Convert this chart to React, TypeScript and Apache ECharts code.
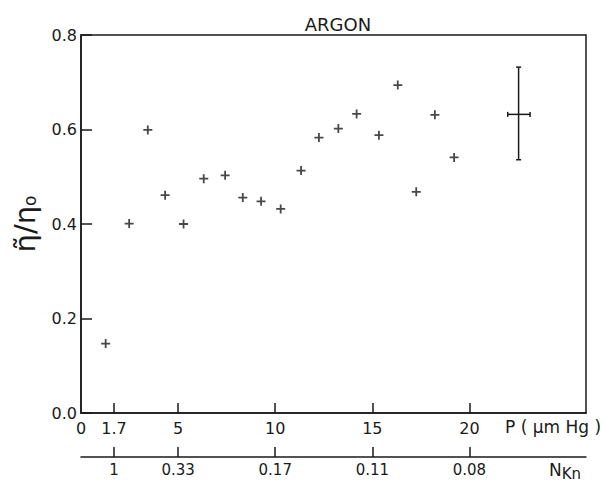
import React, { useEffect, useRef } from "react";
import * as echarts from "echarts";

const pressure = [1.27, 2.48, 3.44, 4.33, 5.28, 6.32, 7.42, 8.33, 9.27, 10.28, 11.33, 12.25, 13.25, 14.19, 15.34, 16.31, 17.26, 18.22, 19.21];
const ratio = [0.147, 0.401, 0.599, 0.461, 0.4, 0.496, 0.503, 0.456, 0.448, 0.432, 0.513, 0.583, 0.602, 0.633, 0.588, 0.694, 0.468, 0.631, 0.541];

// error bar: [x, y, xLow, xHigh, yLow, yHigh]
const errorBar = [[22.53, 0.632, 21.97, 23.12, 0.536, 0.732]];

const pTickValues = [1.7, 5, 10, 15, 20];
const pLabelValues = [0, 1.7, 5, 10, 15, 20];
const knTickValues = [1.7, 5, 10, 15, 20];
const knLabels = ["1", "0.33", "0.17", "0.11", "0.08"];

const FONT = "DejaVu Sans";
const INK = "#1a1a1a";

export default function App() {
  const ref = useRef<HTMLDivElement>(null);
  useEffect(() => {
    if (!ref.current) return;
    const chart = echarts.init(ref.current, undefined, { renderer: "svg" });
    const plus = "path://M-1,-5 H1 V-1 H5 V1 H1 V5 H-1 V1 H-5 V-1 H-1 Z";
    chart.setOption({
      animation: false,
      backgroundColor: "#fff",
      title: {
        text: "ARGON",
        left: 333,
        textAlign: "center",
        top: 10,
        textStyle: { fontFamily: FONT, fontSize: 18, fontWeight: "normal", color: INK },
      },
      grid: {
        left: 81,
        right: 19,
        top: 35,
        bottom: 70,
        show: true,
        borderColor: INK,
        borderWidth: 1.5,
        backgroundColor: "transparent",
      },
      xAxis: [
        {
          type: "value",
          min: 0,
          max: 26,
          position: "bottom",
          axisLine: { show: true, onZero: false, lineStyle: { color: INK, width: 1.5 } },
          axisTick: { show: true, inside: true, length: 10, customValues: pTickValues, lineStyle: { color: INK, width: 1.5 } },
          axisLabel: {
            customValues: pLabelValues,
            margin: 7,
            fontFamily: FONT,
            fontSize: 16,
            color: INK,
            formatter: (v: number) => String(v),
          },
          splitLine: { show: false },
        },
        {
          type: "value",
          min: 0,
          max: 26,
          position: "bottom",
          offset: 44,
          axisLine: { show: true, onZero: false, lineStyle: { color: INK, width: 1.5 } },
          axisTick: { show: true, inside: true, length: 10, customValues: knTickValues, lineStyle: { color: INK, width: 1.5 } },
          axisLabel: {
            customValues: knTickValues,
            margin: 5,
            fontFamily: FONT,
            fontSize: 15,
            color: INK,
            formatter: (v: number) => {
              const i = knTickValues.indexOf(v);
              return i >= 0 ? knLabels[i] : "";
            },
          },
          splitLine: { show: false },
        },
      ],
      yAxis: {
        type: "value",
        min: 0,
        max: 0.8,
        interval: 0.2,
        name: "{a|η\u0303/η}{s|o}",
        nameLocation: "middle",
        nameRotate: 90,
        nameGap: 42,
        nameTextStyle: {
          rich: {
            a: { fontFamily: FONT, fontSize: 29, color: INK },
            s: { fontFamily: FONT, fontSize: 17, color: INK, padding: [10, 0, 0, 0] },
          },
        },
        axisLine: { show: true, lineStyle: { color: INK, width: 1.5 } },
        axisTick: { show: true, inside: true, length: 11, lineStyle: { color: INK, width: 1.5 } },
        axisLabel: {
          margin: 4,
          fontFamily: FONT,
          fontSize: 16,
          color: INK,
          formatter: (v: number) => v.toFixed(1),
        },
        splitLine: { show: false },
      },
      graphic: [
        {
          type: "text",
          left: 505,
          top: 418,
          style: { text: "P ( μm Hg )", fontFamily: FONT, fontSize: 17, fill: INK },
        },
        {
          type: "text",
          left: 549,
          top: 461,
          style: {
            text: "{n|N}{k|Kn}",
            rich: {
              n: { fontFamily: FONT, fontSize: 17, fill: INK },
              k: { fontFamily: FONT, fontSize: 15, fill: INK, padding: [9, 0, 0, 0] },
            },
          },
        },
      ],
      series: [
        {
          type: "scatter",
          xAxisIndex: 0,
          symbol: plus,
          symbolSize: 9,
          itemStyle: { color: INK },
          data: pressure.map((p, i) => [p, ratio[i]]),
        },
        {
          type: "custom",
          xAxisIndex: 0,
          encode: { x: [0, 2, 3], y: [1, 4, 5] },
          data: errorBar,
          renderItem: (params: any, api: any) => {
            const x = api.value(0), y = api.value(1);
            const xl = api.coord([api.value(2), y]);
            const xh = api.coord([api.value(3), y]);
            const yl = api.coord([x, api.value(4)]);
            const yh = api.coord([x, api.value(5)]);
            const st = { stroke: INK, lineWidth: 1.5 };
            return {
              type: "group",
              children: [
                { type: "line", shape: { x1: xl[0], y1: xl[1], x2: xh[0], y2: xh[1] }, style: st },
                { type: "line", shape: { x1: xl[0], y1: xl[1] - 2.5, x2: xl[0], y2: xl[1] + 2.5 }, style: st },
                { type: "line", shape: { x1: xh[0], y1: xh[1] - 2.5, x2: xh[0], y2: xh[1] + 2.5 }, style: st },
                { type: "line", shape: { x1: yl[0], y1: yl[1], x2: yh[0], y2: yh[1] }, style: st },
                { type: "line", shape: { x1: yl[0] - 2.5, y1: yl[1], x2: yl[0] + 2.5, y2: yl[1] }, style: st },
                { type: "line", shape: { x1: yh[0] - 2.5, y1: yh[1], x2: yh[0] + 2.5, y2: yh[1] }, style: st },
              ],
            };
          },
        },
      ],
    });
    return () => chart.dispose();
  }, []);
  return <div ref={ref} style={{ width: 605, height: 483, position: "absolute", left: 0, top: 0 }} />;
}
